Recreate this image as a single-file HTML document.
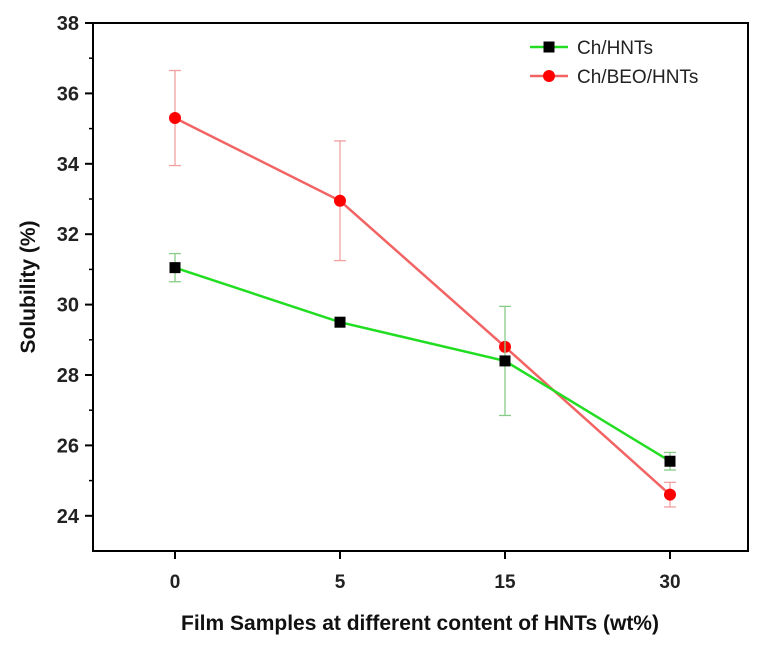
<!DOCTYPE html>
<html><head><meta charset="utf-8"><style>
body{margin:0;background:#fff;}
svg text{font-family:"Liberation Sans",Arial,sans-serif;}
</style></head><body>
<svg id="chart" width="762" height="646" xmlns="http://www.w3.org/2000/svg">
<g id="plot"></g>
</svg>
<script>
const categories = ["0","5","15","30"];
const greenValues = [31.05, 29.5, 28.4, 25.55];
const greenErrors = [0.4, 0.05, 1.55, 0.25];
const redValues = [35.3, 32.95, 28.8, 24.6];
const redErrors = [1.35, 1.7, 0.05, 0.35];
const yTicks = [24, 26, 28, 30, 32, 34, 36, 38];

const L=93, R=748, T=23, B=551;
const yMin=23, yMax=38;
const y = v => B - (v - yMin) / (yMax - yMin) * (B - T);
const x = i => 175 + i * 165;
const NS="http://www.w3.org/2000/svg";
const g=document.getElementById('plot');
function mk(tag, attrs, parent){const e=document.createElementNS(NS,tag);for(const k in attrs)e.setAttribute(k,attrs[k]);(parent||g).appendChild(e);return e;}

const frame=mk('rect',{x:L,y:T,width:R-L,height:B-T,fill:'none',stroke:'#000','stroke-width':2});



yTicks.forEach((t,i)=>{
  const tk=mk('line',{x1:L-8,x2:L,y1:y(t),y2:y(t),stroke:'#000','stroke-width':2});
  
  
  if(t<38){const m=mk('line',{x1:L-4,x2:L,y1:y(t+1),y2:y(t+1),stroke:'#000','stroke-width':1.5});
  
  }
  const lb=mk('text',{x:L-14,y:y(t)+7,'text-anchor':'end','font-size':20,'font-weight':'bold',fill:'#222'});
  lb.textContent=t;
  
  
});
categories.forEach((c,i)=>{
  const tk=mk('line',{x1:x(i),x2:x(i),y1:B,y2:B+8,stroke:'#000','stroke-width':2});
  
  
  const lb=mk('text',{x:x(i),y:B+37,'text-anchor':'middle','font-size':19,'font-weight':'bold',fill:'#222'});
  lb.textContent=c;
  
  
});

function series(vals, errs, color, errColor, name, marker){
  errs.forEach((e,i)=>{
    if(e<0.1) return;
    const eb=mk('g',{stroke:errColor,'stroke-width':1.3});
    
    
    mk('line',{x1:x(i),x2:x(i),y1:y(vals[i]-e),y2:y(vals[i]+e)},eb);
    mk('line',{x1:x(i)-6,x2:x(i)+6,y1:y(vals[i]-e),y2:y(vals[i]-e)},eb);
    mk('line',{x1:x(i)-6,x2:x(i)+6,y1:y(vals[i]+e),y2:y(vals[i]+e)},eb);
  });
  const pl=mk('polyline',{points:vals.map((v,i)=>x(i)+','+y(v)).join(' '),fill:'none',stroke:color,'stroke-width':2.5});
  
  
  vals.forEach((v,i)=>{
    let m;
    if(marker==='sq') m=mk('rect',{x:x(i)-5.5,y:y(v)-5.5,width:11,height:11,fill:'#000'});
    else m=mk('circle',{cx:x(i),cy:y(v),r:6,fill:'#f00'});
    
    
  });
}
series(redValues, redErrors, '#f26464', '#f0a0a0', 'ch-beo-hnts', 'ci');
series(greenValues, greenErrors, '#22dd22', '#88cc88', 'ch-hnts', 'sq');

const lg=mk('g',{});


mk('line',{x1:530,x2:568,y1:47,y2:47,stroke:'#22dd22','stroke-width':2.5},lg);
mk('rect',{x:543.5,y:41.5,width:11,height:11,fill:'#000'},lg);
const t1=mk('text',{x:577,y:54,'font-size':19,fill:'#222'},lg);t1.textContent='Ch/HNTs';
mk('line',{x1:530,x2:568,y1:76,y2:76,stroke:'#f26464','stroke-width':2.5},lg);
mk('circle',{cx:549,cy:76,r:6,fill:'#f00'},lg);
const t2=mk('text',{x:577,y:83,'font-size':19,fill:'#222'},lg);t2.textContent='Ch/BEO/HNTs';

const yl=mk('text',{x:0,y:0,transform:'translate(35,287) rotate(-90)','text-anchor':'middle','font-size':21,'font-weight':'bold',fill:'#111'});
yl.textContent='Solubility (%)';


const xl=mk('text',{x:420,y:630,'text-anchor':'middle','font-size':21,'font-weight':'bold',fill:'#111'});
xl.textContent='Film Samples at different content of HNTs (wt%)';


</script>
</body></html>
